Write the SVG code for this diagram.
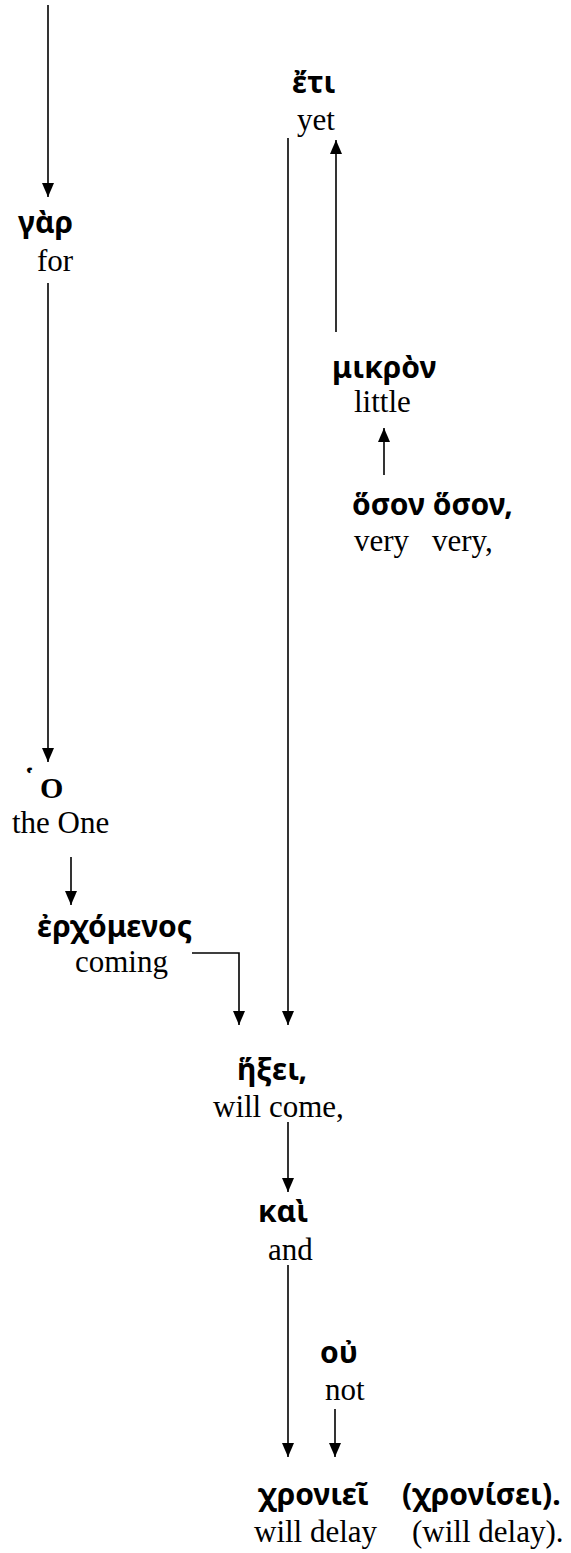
<svg xmlns="http://www.w3.org/2000/svg" width="571" height="1553" viewBox="0 0 571 1553">
<defs>
<style>
.gk{font-family:"Noto Sans","DejaVu Sans",sans-serif;font-weight:bold;font-size:30px;fill:#000}
.en{font-family:"Liberation Serif","Times New Roman",serif;font-size:31px;fill:#000}
.ob{font-family:"Liberation Serif","Times New Roman",serif;font-weight:bold;font-size:30px;fill:#000}
.c{stroke:#000;stroke-width:1.6;fill:none}
</style>
<marker id="a" markerUnits="userSpaceOnUse" markerWidth="14" markerHeight="12" refX="14" refY="6" orient="auto" viewBox="0 0 14 12">
<path d="M0,0 L14,6 L0,12 Z" fill="#000"/>
</marker>
</defs>
<g id="connectors">
<line class="c" x1="48" y1="5" x2="48" y2="197" marker-end="url(#a)"/>
<line class="c" x1="48" y1="283" x2="48" y2="762" marker-end="url(#a)"/>
<line class="c" x1="71" y1="857" x2="71" y2="905" marker-end="url(#a)"/>
<path class="c" d="M192,953 H239 V1025" marker-end="url(#a)"/>
<line class="c" x1="288" y1="138" x2="288" y2="1025" marker-end="url(#a)"/>
<line class="c" x1="336" y1="332" x2="336" y2="140" marker-end="url(#a)"/>
<line class="c" x1="384" y1="475" x2="384" y2="428" marker-end="url(#a)"/>
<line class="c" x1="288" y1="1122" x2="288" y2="1192" marker-end="url(#a)"/>
<line class="c" x1="288" y1="1265" x2="288" y2="1457" marker-end="url(#a)"/>
<line class="c" x1="335" y1="1409" x2="335" y2="1457" marker-end="url(#a)"/>
</g>
<g id="gar"><text class="gk" x="18" y="233">γὰρ</text><text class="en" x="37" y="271">for</text></g>
<g id="eti"><text class="gk" x="292" y="93">ἔτι</text><text class="en" x="297" y="130">yet</text></g>
<g id="mikron"><text class="gk" x="332" y="378">μικρὸν</text><text class="en" x="354" y="412">little</text></g>
<g id="hoson"><text class="gk" x="352" y="515">ὅσον ὅσον,</text><text class="en" y="551"><tspan x="354">very</tspan><tspan x="432">very,</tspan></text></g>
<g id="ho"><text class="gk" x="25" y="792">῾</text><text class="ob" x="40" y="798">O</text><text class="en" x="12" y="833">the One</text></g>
<g id="erchomenos"><text class="gk" x="37" y="937">ἐρχόμενος</text><text class="en" x="75" y="972">coming</text></g>
<g id="hexei"><text class="gk" x="237" y="1080">ἥξει,</text><text class="en" x="213" y="1117">will come,</text></g>
<g id="kai"><text class="gk" x="258" y="1222">καὶ</text><text class="en" x="268" y="1260">and</text></g>
<g id="ou"><text class="gk" x="320" y="1363">οὐ</text><text class="en" x="325" y="1400">not</text></g>
<g id="chroniei"><text class="gk" x="258" y="1505">χρονιεῖ</text><text class="en" x="254" y="1542">will delay</text></g>
<g id="chronisei"><text class="gk" x="402" y="1505">(χρονίσει).</text><text class="en" x="412" y="1542">(will delay).</text></g>
</svg>
